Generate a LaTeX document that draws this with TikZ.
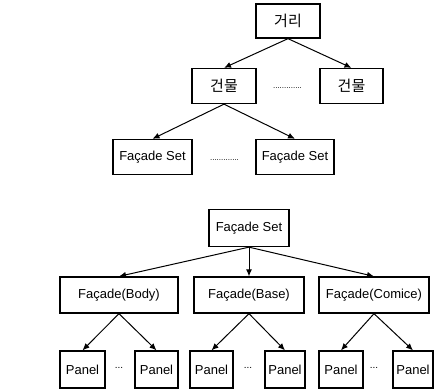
\documentclass[tikz,border=0pt]{standalone}
\usepackage{fontspec}
\setmainfont{Liberation Sans}
\newfontfamily\krfont{Noto Sans CJK KR}
\usetikzlibrary{arrows.meta}

\begin{document}
\begin{tikzpicture}[x=1pt,y=-1pt,
  box/.style={draw,line width=1.3pt,inner sep=0pt,font=\fontsize{13}{14}\selectfont},
  link/.style={-{Latex[length=7pt,width=6pt]},line width=1pt},
  gap/.style={inner sep=0pt,font=\fontsize{8}{8}\selectfont}]
\useasboundingbox (0,0) rectangle (436,389);
% street level
\node[box,minimum width=64pt,minimum height=34pt,font=\krfont\fontsize{15}{15}\selectfont] (street) at (288,21) {거리};
\node[box,minimum width=64pt,minimum height=35pt,font=\krfont\fontsize{15}{15}\selectfont] (bldgA) at (224,86) {건물};
\node[box,minimum width=63pt,minimum height=35pt,font=\krfont\fontsize{15}{15}\selectfont] (bldgB) at (351.5,86) {건물};
\node[box,minimum width=79pt,minimum height=35pt] (setA) at (152.5,157) {Façade Set};
\node[box,minimum width=78pt,minimum height=35pt] (setB) at (295,157) {Façade Set};
\node[gap] (dotsA) at (287.5,88) {.............};
\node[gap] (dotsB) at (224.5,160) {.............};
\draw[link] (street.south) -- (bldgA.north);
\draw[link] (street.south) -- (bldgB.north);
\draw[link] (bldgA.south) -- (setA.north);
\draw[link] (bldgA.south) -- (setB.north);
% facade set level
\node[box,minimum width=80pt,minimum height=37pt] (set) at (249,228) {Façade Set};
\node[box,minimum width=118pt,minimum height=36pt] (body) at (119,295) {Façade(Body)};
\node[box,minimum width=110pt,minimum height=36pt] (base) at (249,295) {Façade(Base)};
\node[box,minimum width=110pt,minimum height=36pt] (cornice) at (374,295) {Façade(Comice)};
\foreach \n/\x/\w in {p1/82.5/45,p2/156.5/43,p3/211.5/43,p4/285/40,p5/341/44,p6/413/40}
  \node[box,minimum width=\w pt,minimum height=37pt] (\n) at (\x,369.5) {Panel};
\foreach \n/\x in {d1/119,d2/248,d3/374}
  \node[gap,font=\fontsize{10}{10}\selectfont] (\n) at (\x,368) {...};
\foreach \c in {body,base,cornice}
  \draw[link] (set.south) -- (\c.north);
\foreach \p/\c in {body/p1,body/p2,base/p3,base/p4,cornice/p5,cornice/p6}
  \draw[link] (\p.south) -- (\c.north);
\end{tikzpicture}
\end{document}
